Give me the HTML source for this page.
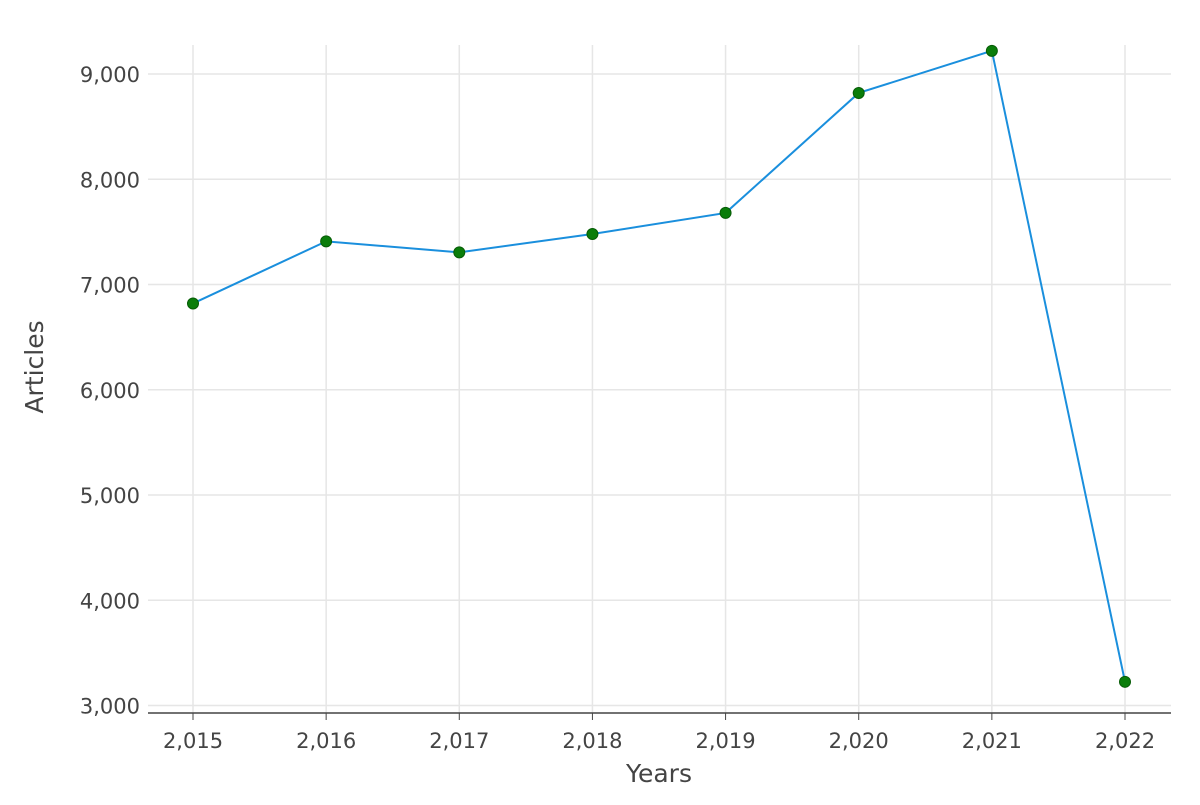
<!DOCTYPE html>
<html><head><meta charset="utf-8"><style>
body{margin:0;background:#fff;}
svg text{font-family:"DejaVu Sans","Liberation Sans",sans-serif;fill:#444;}
</style></head><body>
<svg id="chart" width="1200" height="800" xmlns="http://www.w3.org/2000/svg">
<g id="grid"></g>
<g id="axes"></g>
<g id="series"></g>
<text x="659" y="782" text-anchor="middle" font-size="25">Years</text>
<text transform="translate(43,367) rotate(-90)" text-anchor="middle" font-size="25">Articles</text>
</svg>
<script>
const years = [2015, 2016, 2017, 2018, 2019, 2020, 2021, 2022];
const articles = [6820, 7410, 7305, 7480, 7680, 8820, 9220, 3225];
const yTicks = [3000, 4000, 5000, 6000, 7000, 8000, 9000];

const NS = "http://www.w3.org/2000/svg";
const plotLeft = 148, plotRight = 1171, plotTop = 45, plotBottom = 713;
const xs = v => 193 + (v - 2015) * (1125 - 193) / 7;
const ys = v => 705.5 - (v - 3000) * (705.5 - 74) / 6000;
const fmt = v => String(v).replace(/\B(?=(\d{3})+(?!\d))/g, ",");
function mk(tag, attrs, parent) {
  const e = document.createElementNS(NS, tag);
  for (const k in attrs) e.setAttribute(k, attrs[k]);
  parent.appendChild(e);
  return e;
}
const gridG = document.getElementById("grid");
const axesG = document.getElementById("axes");
const seriesG = document.getElementById("series");

yTicks.forEach(t => {
  const l = mk("line", {x1: plotLeft, x2: plotRight, y1: ys(t), y2: ys(t), stroke: "#e6e6e6", "stroke-width": 1.5}, gridG);
  
  
  const tx = mk("text", {x: 140, y: ys(t) + 8, "text-anchor": "end", "font-size": 21}, axesG);
  tx.textContent = fmt(t);
  
  
});
years.forEach(yr => {
  const l = mk("line", {x1: xs(yr), x2: xs(yr), y1: plotTop, y2: plotBottom, stroke: "#e6e6e6", "stroke-width": 1.5}, gridG);
  
  
  const tk = mk("line", {x1: xs(yr), x2: xs(yr), y1: plotBottom, y2: plotBottom + 7, stroke: "#444", "stroke-width": 1}, axesG);
  
  
  const tx = mk("text", {x: xs(yr), y: 748, "text-anchor": "middle", "font-size": 21}, axesG);
  tx.textContent = fmt(yr);
  
  
});
const ax = mk("line", {x1: plotLeft, x2: plotRight, y1: plotBottom, y2: plotBottom, stroke: "#444", "stroke-width": 1.5}, axesG);



const pts = years.map((yr, i) => xs(yr) + "," + ys(articles[i])).join(" ");
const line = mk("polyline", {points: pts, fill: "none", stroke: "#1a8fdd", "stroke-width": 2}, seriesG);


years.forEach((yr, i) => {
  const c = mk("circle", {cx: xs(yr), cy: ys(articles[i]), r: 5.5, fill: "#0a7d0a", stroke: "#065c06", "stroke-width": 1}, seriesG);
  
  
});
</script>
</body></html>
